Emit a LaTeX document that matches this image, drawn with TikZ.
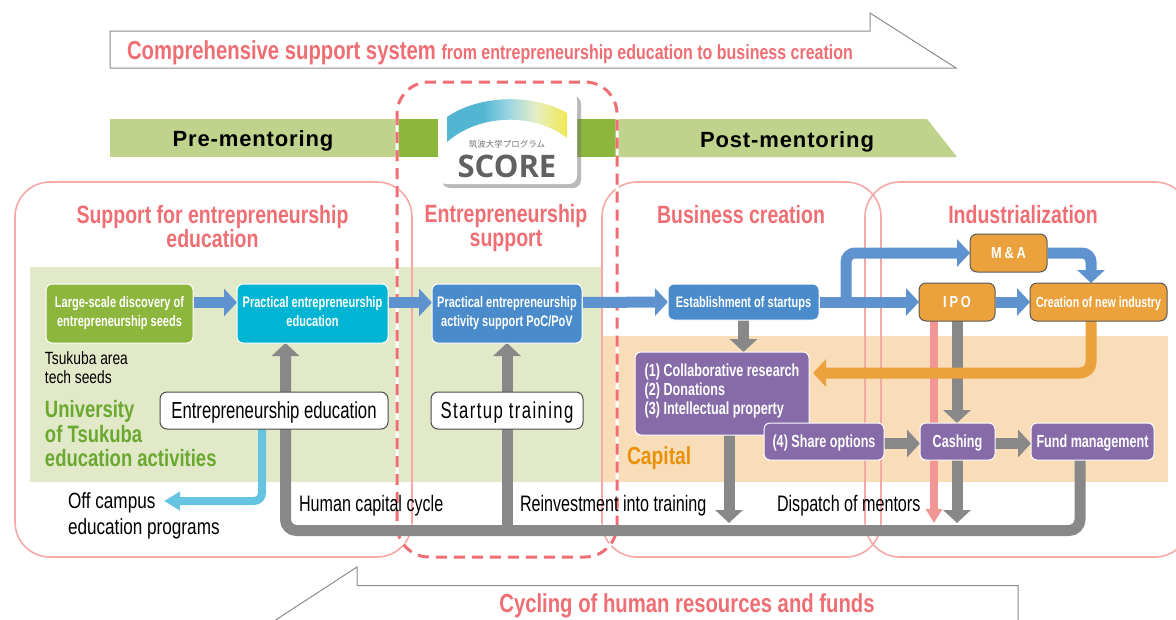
\documentclass[tikz,border=0pt]{standalone}
\usepackage{fontspec}
\usepackage{tikz}
\usetikzlibrary{arrows.meta,shadows,positioning}
\setmainfont{Liberation Sans}
\newfontfamily\condfont[FakeStretch=0.72]{Liberation Sans}
\newfontfamily\titlefont[FakeStretch=0.78]{Liberation Sans}
\newfontfamily\spacedfont[FakeStretch=0.72,LetterSpace=6]{Liberation Sans}
\newfontfamily\widefont[FakeStretch=0.8,LetterSpace=18]{Liberation Sans}
\newfontfamily\barfont[LetterSpace=4]{Liberation Sans}
\newfontfamily\logofont{Open Sans}
\newfontfamily\cjkfont{Noto Sans CJK JP}
\definecolor{title_pink}{HTML}{EE6E73}
\definecolor{frame_pink}{HTML}{F5A8A6}
\definecolor{band_green}{HTML}{E1E9C9}
\definecolor{band_orange}{HTML}{F9DCB8}
\definecolor{bar_light}{HTML}{BFD38C}
\definecolor{bar_dark}{HTML}{8DB63C}
\definecolor{arrow_blue}{HTML}{5F93D0}
\definecolor{box_blue}{HTML}{4A8CCB}
\definecolor{box_cyan}{HTML}{00B5D3}
\definecolor{box_purple}{HTML}{866BA8}
\definecolor{box_orange}{HTML}{EBA13C}
\definecolor{arrow_grey}{HTML}{888888}
\definecolor{arrow_sky}{HTML}{65C5E0}
\definecolor{arrow_red}{HTML}{F29595}
\definecolor{text_green}{HTML}{6AA82F}
\definecolor{text_orange}{HTML}{E8920C}
\definecolor{logo_teal}{HTML}{52B6D2}
\definecolor{logo_pale}{HTML}{E6EFC4}
\definecolor{logo_yellow}{HTML}{F7E417}
\pgfdeclarehorizontalshading{score_shade}{100bp}{color(0bp)=(logo_teal); color(40bp)=(logo_teal); color(50bp)=(logo_teal!60!white); color(62bp)=(logo_pale); color(82bp)=(logo_yellow); color(100bp)=(logo_yellow)}
\pgfdeclarelayer{back}
\pgfdeclarelayer{link}
\pgfsetlayers{back,link,main}

\begin{document}
\begin{tikzpicture}[x=1pt, y=-1pt, inner sep=0pt, outer sep=0pt,
    frame_style/.style={draw=frame_pink, line width=1.6pt, rounded corners=35pt},
    outline_style/.style={draw=black!45, line width=1pt},
    title_style/.style={font=\titlefont\bfseries\fontsize{25}{24}\selectfont, text=title_pink, align=center},
    big_title/.style={title_style, font=\titlefont\bfseries\fontsize{26}{26}\selectfont},
    bar_style/.style={font=\barfont\bfseries\fontsize{22}{22}\selectfont, text=black},
    box_style/.style={draw=white, line width=1pt, rounded corners=6pt, text=white, align=center, text depth=0pt,
        font=\condfont\bfseries\fontsize{15.3}{19}\selectfont},
    two_line/.style={text depth=4.5pt},
    dark_box/.style={box_style, draw=black!65, fill=box_orange, rounded corners=7pt},
    purple_box/.style={box_style, fill=box_purple, font=\condfont\bfseries\fontsize{17.5}{19}\selectfont},
    white_box/.style={draw=black!70, line width=1pt, fill=white, rounded corners=7pt, text depth=0pt},
    note_style/.style={anchor=west, font=\condfont\fontsize{22.4}{22.4}\selectfont},
    big_arrow/.style={line width=11pt, -{Triangle[length=13pt,width=27pt]}},
    blue_arrow/.style={big_arrow, draw=arrow_blue, rounded corners=9pt},
    grey_arrow/.style={big_arrow, draw=arrow_grey, rounded corners=11pt},
    orange_arrow/.style={big_arrow, draw=box_orange, rounded corners=11pt},
    sky_arrow/.style={line width=8pt, draw=arrow_sky, rounded corners=8pt, -{Triangle[length=16pt,width=18pt]}},
    red_arrow/.style={line width=8pt, draw=arrow_red, -{Triangle[length=14pt,width=16pt]}}]

	\useasboundingbox (0,0) rectangle (1176,619);

	\node[purple_box, minimum width=174pt, minimum height=83pt, align=left, text depth=9pt] (research) at (722,393.5) {(1) Collaborative research\\(2) Donations\\(3) Intellectual property};
	\node[box_style, two_line, fill=bar_dark, minimum width=147pt, minimum height=59pt] (seeds) at (119.5,313.5) {Large-scale discovery of\\entrepreneurship seeds};
	\node[box_style, two_line, fill=box_cyan, minimum width=151pt, minimum height=59pt] (practical) at (312.5,313.5) {Practical entrepreneurship\\education};
	\node[box_style, two_line, fill=box_blue, minimum width=150pt, minimum height=59pt] (support) at (507,313.5) {Practical entrepreneurship\\activity support PoC/PoV};
	\node[box_style, fill=box_blue, minimum width=151pt, minimum height=36pt] (startups) at (743.5,302) {Establishment of startups};
	\node[dark_box, minimum width=77pt, minimum height=38pt, font=\widefont\bfseries\fontsize{16}{16}\selectfont] (ma) at (1008.5,253) {M\&A};
	\node[dark_box, minimum width=76pt, minimum height=38pt, font=\widefont\bfseries\fontsize{16}{16}\selectfont] (ipo) at (957,302) {IPO};
	\node[dark_box, minimum width=137pt, minimum height=38pt, font=\condfont\bfseries\fontsize{14.8}{19}\selectfont] (creation) at (1098.5,302) {Creation of new industry};
	\node[purple_box, minimum width=120pt, minimum height=37pt] (share) at (824,441.5) {(4) Share options};
	\node[purple_box, minimum width=75pt, minimum height=37pt] (cashing) at (957.5,441.5) {Cashing};
	\node[purple_box, minimum width=123pt, minimum height=37pt] (fund) at (1092.5,441.5) {Fund management};
	\node[white_box, minimum width=228pt, minimum height=37pt, font=\condfont\fontsize{23.2}{23.2}\selectfont] (edu) at (274,410.5) {Entrepreneurship education};
	\node[white_box, minimum width=152pt, minimum height=37pt, font=\spacedfont\fontsize{23.2}{23.2}\selectfont] (training) at (507,410.5) {Startup training};

	\node[big_title] (title_top) at (490,53) {Comprehensive support system {\fontsize{20.5}{20.5}\selectfont from entrepreneurship education to business creation}};
	\node[big_title] (title_bottom) at (687,606) {Cycling of human resources and funds};
	\node[title_style] (title_edu) at (212.5,227) {Support for entrepreneurship\\education};
	\node[title_style] (title_support) at (506,228.5) {Entrepreneurship\\support};
	\node[title_style] (title_business) at (741,215) {Business creation};
	\node[title_style] (title_industry) at (1023,215) {Industrialization};
	\node[bar_style] (pre) at (253,141) {Pre-mentoring};
	\node[bar_style] (post) at (787,142) {Post-mentoring};

	\node[anchor=west, font=\titlefont\fontsize{17.7}{19}\selectfont, align=left] (seeds_note) at (45,368) {Tsukuba area\\tech seeds};
	\node[anchor=west, font=\titlefont\bfseries\fontsize{23.7}{24.5}\selectfont, text=text_green, align=left] (tsukuba) at (45,434) {University\\of Tsukuba\\education activities};
	\node[anchor=west, font=\titlefont\bfseries\fontsize{24.7}{24.7}\selectfont, text=text_orange] (capital) at (627,458) {Capital};
	\node[anchor=west, font=\titlefont\fontsize{22}{26}\selectfont, align=left] (campus) at (68,516) {Off campus\\education programs};
	\node[note_style] (cycle_note) at (299,506) {Human capital cycle};
	\node[note_style] (reinvest_note) at (520,506) {Reinvestment into training};
	\node[note_style] (mentor_note) at (777,506) {Dispatch of mentors};

	\coordinate (branch) at (846,302);
	\coordinate (cycle) at (500,530.5);
	\coordinate (campus_tip) at (164,501);
	\coordinate (red_tip) at (934,523);
	\coordinate (cash_tip) at (957,523);
	\coordinate (capital_tip) at (729,523);

	\begin{pgfonlayer}{back}
		\fill[band_green] (30,267) rectangle (602,482);
		\fill[band_orange] (602,336) rectangle (1168,482);

		\draw[outline_style] (110,31) -- (870,31) -- (870,13) -- (956,68) -- (110,68) -- cycle;
		\draw[outline_style] (1018,625) -- (1018,585.5) -- (357,585.5) -- (357,567) -- (268,625);

		\fill[bar_light] (110,119) rectangle (397,157);
		\fill[bar_dark] (397,119) rectangle (617,157);
		\fill[bar_light] (617,119) -- (927,119) -- (957,157) -- (617,157) -- cycle;

		\draw[frame_style] (15,182) rectangle (412,557);
		\draw[frame_style] (602,182) rectangle (881,557);
		\draw[frame_style] (865,182) rectangle (1190,557);

		\draw[white, line width=3pt, rounded corners=32pt] (397,82) rectangle (617,557);
		\draw[title_pink, line width=3pt, rounded corners=32pt, dash pattern=on 11pt off 7pt] (397,82) rectangle (617,557);

		\node[fill=white, rounded corners=8pt, minimum width=139pt, minimum height=92pt,
			drop shadow={shadow xshift=4pt, shadow yshift=-4pt, fill=black!55}] (logo) at (507.5,138) {};
		\shade[shading=score_shade]
			(447,117) .. controls (480,94) and (535,94) .. (567,113) -- (567,138) .. controls (535,113) and (480,113) .. (447,142) -- cycle;
		\node[font=\cjkfont\fontsize{8.5}{8.5}\selectfont, text=black!55] (logo_jp) at (507,144.5) {筑波大学プログラム};
		\node[font=\logofont\bfseries\fontsize{31}{31}\selectfont, text=black!62] (logo_text) at (507,166) {SCORE};
	\end{pgfonlayer}

	\begin{pgfonlayer}{link}
		\draw[red_arrow] ([xshift=-23pt]ipo.south) -- (red_tip);

		\draw[blue_arrow] ([yshift=11pt,xshift=1pt]seeds.east) -- ([yshift=11pt]practical.west);
		\draw[blue_arrow] ([yshift=11pt,xshift=1pt]practical.east) -- ([yshift=11pt]support.west);
		\draw[blue_arrow] ([yshift=11pt,xshift=1pt]support.east) -- (startups.west);
		\draw[blue_arrow] ([xshift=1pt]startups.east) -- (ipo.west);
		\draw[blue_arrow] (branch) |- (ma.west);
		\draw[blue_arrow] ([xshift=1pt]ma.east) -| ([xshift=-7.5pt]creation.north);
		\draw[blue_arrow] ([xshift=1pt]ipo.east) -- (creation.west);

		\draw[grey_arrow] (startups.south) -- (startups.south |- research.north);
		\draw[grey_arrow] (ipo.south) -- (cashing.north -| ipo.south);
		\draw[grey_arrow] (cashing.south -| ipo.south) -- (cash_tip);
		\draw[grey_arrow] ([xshift=7pt]research.south) -- (capital_tip);
		\draw[grey_arrow] ([yshift=-2pt]share.east) -- ([yshift=-2pt]cashing.west);
		\draw[grey_arrow] ([yshift=-2pt]cashing.east) -- ([yshift=-2pt]fund.west);
		\draw[grey_arrow] ([xshift=-12.5pt]fund.south) |- (cycle) -| ([xshift=-27pt]practical.south);
		\draw[grey_arrow] (cycle -| support.south) -- (support.south);

		\draw[orange_arrow] ([xshift=-7.5pt]creation.south) |- ([xshift=4pt,yshift=20.5pt]research.east);
		\draw[sky_arrow] ([xshift=-12pt]edu.south) |- (campus_tip);
	\end{pgfonlayer}
\end{tikzpicture}
\end{document}
